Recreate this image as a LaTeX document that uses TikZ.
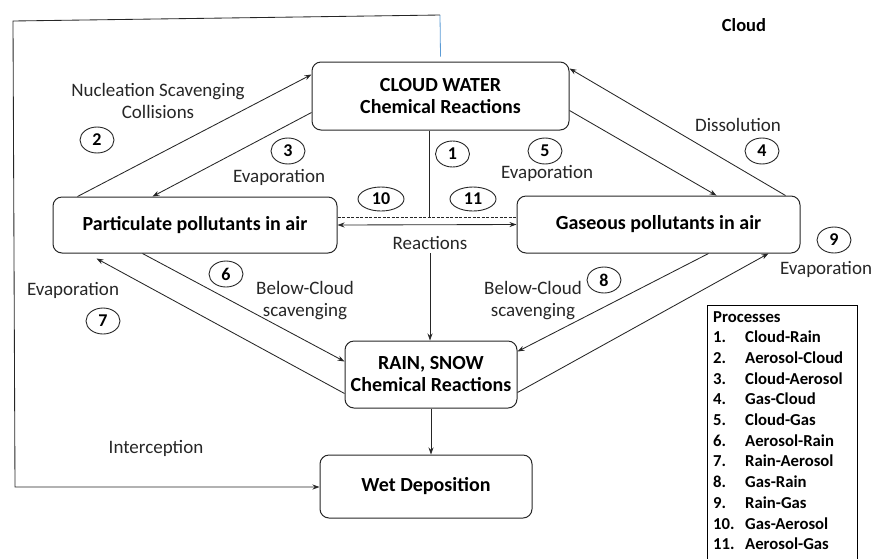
\documentclass[tikz,border=0pt]{standalone}
\usepackage{fontspec}
\setmainfont{Carlito}
\usetikzlibrary{shapes.geometric,arrows.meta,positioning}
\definecolor{bluelink}{RGB}{91,155,213}
\tikzset{
  box/.style={draw=black!85, rounded corners=9pt, line width=1pt, align=center, inner sep=0pt,
    font=\fontsize{20}{22}\selectfont\bfseries},
  num/.style={draw=black!85, ellipse, line width=0.9pt, minimum width=34pt, minimum height=26pt,
    inner sep=0pt, font=\fontsize{18}{18}\selectfont\bfseries},
  lbl/.style={align=center, text=black!85, font=\fontsize{19}{22}\selectfont},
  flow/.style={line width=0.85pt, draw=black!85},
}
\begin{document}
\begin{tikzpicture}[x=1pt,y=-1pt,>={Stealth[length=7pt,width=5pt]}]
\useasboundingbox (0,0) rectangle (872,558);

\node[box, minimum width=257pt, minimum height=68pt] (cloud) at (440.5,96) {CLOUD WATER\\Chemical Reactions};
\node[box, minimum width=284pt, minimum height=56pt] (part) at (195,225) {Particulate pollutants in air};
\node[box, minimum width=283pt, minimum height=57pt] (gas) at (658.5,224.5) {Gaseous pollutants in air};
\node[box, minimum width=172pt, minimum height=67pt] (rain) at (431,374.5) {RAIN, SNOW\\Chemical Reactions};
\node[box, minimum width=212pt, minimum height=63pt] (wet) at (426,486.5) {Wet Deposition};

\node[num] (n1) at (452.5,154) {1};
\node[num] (n2) at (97,140) {2};
\node[num] (n3) at (288,151) {3};
\node[num] (n4) at (762,151) {4};
\node[num] (n5) at (545,151) {5};
\node[num] (n6) at (226,274) {6};
\node[num] (n7) at (103,321) {7};
\node[num] (n8) at (604,280) {8};
\node[num] (n9) at (834,240) {9};
\node[num, minimum width=46pt, minimum height=24pt] (n10) at (381,199) {10};
\node[num, minimum width=46pt, minimum height=24pt] (n11) at (473,199) {11};

\node[lbl] (nucl) at (158,101) {Nucleation Scavenging\\Collisions};
\node[lbl] (evap3) at (279,177) {Evaporation};
\node[lbl] (evap5) at (547,173) {Evaporation};
\node[lbl] (diss) at (738,125) {Dissolution};
\node[lbl] (evap9) at (826,269) {Evaporation};
\node[lbl] (evap7) at (73,290) {Evaporation};
\node[lbl] (reac) at (430,243) {Reactions};
\node[lbl] (below6) at (305,300.5) {Below-Cloud\\scavenging};
\node[lbl] (below8) at (533,300.5) {Below-Cloud\\scavenging};
\node[lbl] (inter) at (156,448) {Interception};
\node[font=\fontsize{18.5}{20}\selectfont\bfseries] (cloudlbl) at (744,25) {Cloud};

\node[anchor=north west, align=left, inner sep=0pt, font=\fontsize{16.7}{20.7}\selectfont\bfseries] (proc) at (713,311)
  {Processes\\
   \makebox[32pt][l]{1.}Cloud-Rain\\
   \makebox[32pt][l]{2.}Aerosol-Cloud\\
   \makebox[32pt][l]{3.}Cloud-Aerosol\\
   \makebox[32pt][l]{4.}Gas-Cloud\\
   \makebox[32pt][l]{5.}Cloud-Gas\\
   \makebox[32pt][l]{6.}Aerosol-Rain\\
   \makebox[32pt][l]{7.}Rain-Aerosol\\
   \makebox[32pt][l]{8.}Gas-Rain\\
   \makebox[32pt][l]{9.}Rain-Gas\\
   \makebox[32pt][l]{10.}Gas-Aerosol\\
   \makebox[32pt][l]{11.}Aerosol-Gas};
\draw[line width=0.9pt] (707,560) |- (857,305) -- (857,560);

\coordinate (ctop) at (440,15);
\coordinate (ltop) at (13,21);
\coordinate (lbot) at (15,487);
\coordinate (split) at (429,217);

\draw[flow, ->] ([xshift=25pt]part.north west) -- ([yshift=-13pt]cloud.north west);
\draw[flow, ->] ([yshift=18pt]cloud.south west) -- ([xshift=100pt]part.north west);
\draw[flow, ->] ([yshift=20pt]cloud.south east) -- ([xshift=200pt]gas.north west);
\draw[flow, ->] ([xshift=-15pt]gas.north east) -- ([yshift=-7pt]cloud.north east);
\draw[flow, ->] ([xshift=90pt]part.south west) -- ([yshift=-21pt]rain.north west);
\draw[flow, ->] ([yshift=15pt]rain.south west) -- ([xshift=44pt,yshift=-5pt]part.south west);
\draw[flow, ->] ([xshift=192pt]gas.south west) -- ([yshift=-11pt]rain.north east);
\draw[flow, ->] ([yshift=16pt]rain.south east) -- ([xshift=252pt]gas.south west);

\draw[flow] ([xshift=-11.5pt]cloud.south) -- (split);
\draw[flow, dash pattern=on 3pt off 1.5pt] ([yshift=8pt]part.east) -- ([yshift=7.5pt]gas.west);
\draw[flow, <->] (part.east) -- (gas.west);
\draw[flow, ->] (reac.south) -- (reac.south |- rain.north);
\draw[flow, ->] (rain.south) -- (rain.south |- wet.north);

\draw[draw=bluelink, line width=0.8pt] ([yshift=5pt]cloud.north) -- (ctop);
\draw[flow, ->] (ctop) -- (ltop) -- (lbot) -- (lbot -| wet.west);
\end{tikzpicture}
\end{document}
